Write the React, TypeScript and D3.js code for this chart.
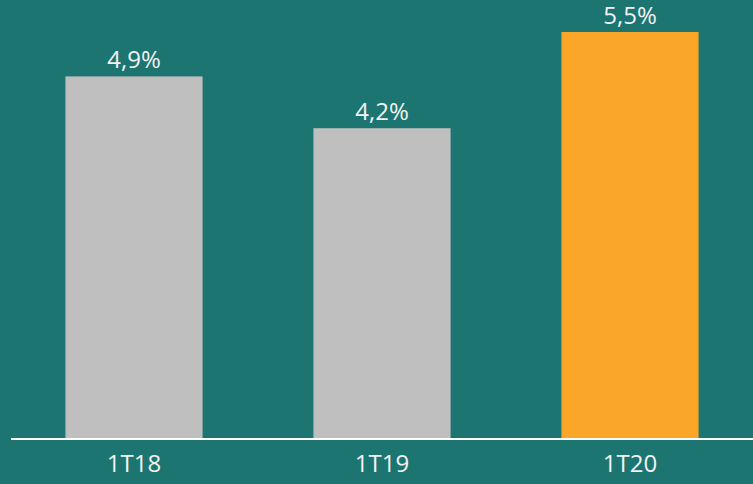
import React from "react";
import * as d3 from "d3";

const categories = ["1T18", "1T19", "1T20"];
const values = [4.9, 4.2, 5.5];
const labels = ["4,9%", "4,2%", "5,5%"];
const colors = ["#bfbfbf", "#bfbfbf", "#faa629"];

export default function App() {
  const W = 753, H = 484;
  const baseY = 439;
  const x = d3.scaleBand<string>().domain(categories).range([10, 754]).paddingInner(0.447).paddingOuter(0.2235);
  const y = d3.scaleLinear().domain([0, 5.5]).range([baseY, 32]);
  const font = "'Open Sans', 'Noto Sans', sans-serif";
  return (
    <svg width={W} height={H} style={{ position: "fixed", left: 0, top: 0, display: "block" }}>
      <rect x={0} y={0} width={W} height={H} fill="#1c7571" />
      {categories.map((c, i) => (
        <g key={c}>
          <rect x={x(c)!} y={y(values[i])} width={x.bandwidth()} height={baseY - y(values[i])} fill={colors[i]} />
          <text x={x(c)! + x.bandwidth() / 2} y={y(values[i]) - 8} textAnchor="middle" fill="#f2f2f2" fontSize={24} fontFamily={font}>{labels[i]}</text>
          <text x={x(c)! + x.bandwidth() / 2} y={472} textAnchor="middle" fill="#f2f2f2" fontSize={24} fontFamily={font}>{c}</text>
        </g>
      ))}
      <line x1={11} x2={W} y1={439} y2={439} stroke="#ffffff" strokeWidth={2} />
    </svg>
  );
}
